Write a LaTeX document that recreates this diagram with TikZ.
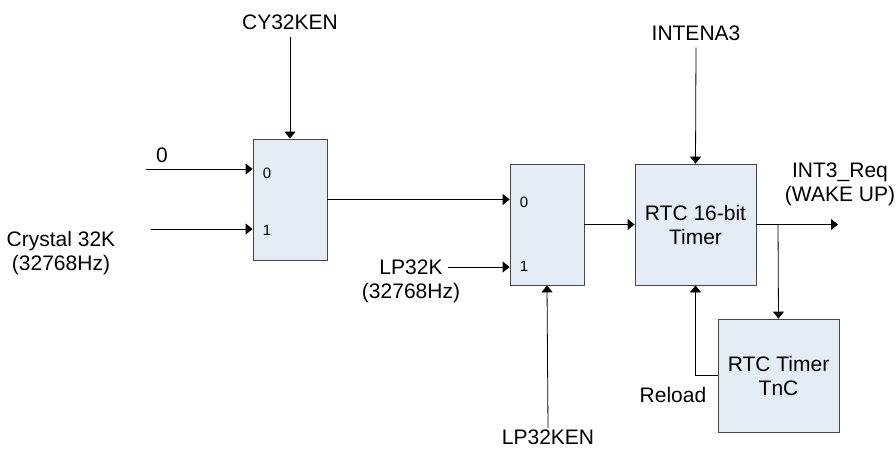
\documentclass[tikz,border=0pt]{standalone}
\usepackage{fontspec}
\setmainfont{Liberation Sans}
\usetikzlibrary{arrows.meta,positioning}

\definecolor{blkfill}{RGB}{230,236,246}
\definecolor{blkline}{RGB}{70,70,70}

\tikzset{
  blk/.style={draw=blkline,fill=blkfill,line width=0.8pt,inner sep=0pt,align=center},
  lbl/.style={font=\fontsize{21}{24}\selectfont,inner sep=1pt,align=center},
  port/.style={font=\fontsize{15}{17}\selectfont,inner sep=0pt},
  sig/.style={line width=0.8pt,-{Triangle[length=7pt,width=11pt]}},
}

\begin{document}
\begin{tikzpicture}[x=1pt,y=-1pt]
  \useasboundingbox (0,0) rectangle (896,453);
  % multiplexers and timer blocks
  \node[blk,minimum width=74pt,minimum height=121pt] (muxa) at (290,199.5) {};
  \node[blk,minimum width=74pt,minimum height=121pt] (muxb) at (547,224.5) {};
  \node[blk,minimum width=121pt,minimum height=121pt,lbl] (timer) at (695.5,224.5) {RTC 16-bit\\Timer};
  \node[blk,minimum width=121pt,minimum height=113pt,lbl] (tnc) at (778.5,375.5) {RTC Timer\\TnC};
  % mux port numbers
  \node[port] (pa0) at (267,173) {0};
  \node[port] (pa1) at (267,230) {1};
  \node[port] (pb0) at (524,202) {0};
  \node[port] (pb1) at (524,266) {1};
  % signal labels
  \node[lbl] (cy) at (290,22) {CY32KEN};
  \node[lbl] (zero) at (162,155) {0};
  \node[lbl] (xtal) at (61,253) {Crystal 32K\\(32768Hz)};
  \node[lbl] (lpk) at (411,267) {LP32K};
  \node[lbl] (lphz) at (411,293) {(32768Hz)};
  \node[lbl] (lpen) at (548,437) {LP32KEN};
  \node[lbl] (inten) at (696,33) {INTENA3};
  \node[lbl] (req) at (840,184) {INT3\_Req\\(WAKE UP)};
  \node[lbl] (rld) at (673,395) {Reload};
  \coordinate (zin) at (146,169);
  \coordinate (cin) at (151,229);
  \coordinate (wake) at (838,224.5);
  \coordinate (br) at (778,224.5);
  % connections
  \draw[sig] ([yshift=-6pt]cy.south) -- (muxa.north);
  \draw[sig] (zin) -- (zin -| muxa.west);
  \draw[sig] (cin) -- (cin -| muxa.west);
  \draw[sig] (muxa.east) -- (muxa.east -| muxb.west);
  \draw[sig] ([xshift=4pt]lpk.east) -- (lpk.east -| muxb.west);
  \draw[sig] (lpen.north) -- (muxb.south);
  \draw[sig] (muxb.east) -- (timer.west);
  \draw[sig] ([yshift=-6pt]inten.south) -- (timer.north);
  \draw[sig] (timer.east) -- (wake);
  \draw[sig] (br) -- (tnc.north);
  \draw[sig] (tnc.west) -| (timer.south);
\end{tikzpicture}
\end{document}
